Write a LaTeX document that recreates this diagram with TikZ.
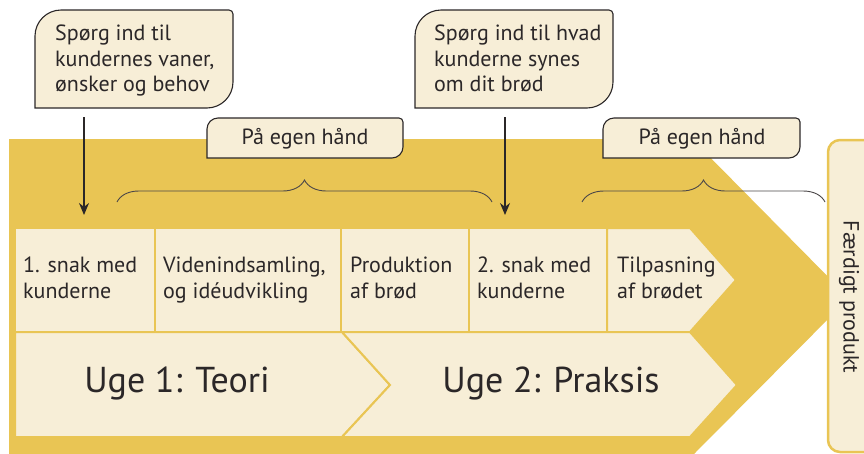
\documentclass[tikz,border=0pt]{standalone}
\usepackage{fontspec}
\setmainfont{PT Sans}
\usetikzlibrary{arrows.meta,decorations.pathreplacing}
\definecolor{gold}{HTML}{E9C554}
\definecolor{cream}{HTML}{F7EED7}
\definecolor{ink}{HTML}{2B2728}

% Box with large rounded top-left and bottom-right corners,
% small rounded top-right corner and a square bottom-left corner.
% #1 style, #2 x1, #3 y1, #4 x2, #5 y2, #6 big radius, #7 small radius
\newcommand{\tagbox}[7]{%
  \draw[#1] (#2,#5) -- (#2,#3+#6)
    .. controls (#2,#3+0.45*#6) and (#2+0.45*#6,#3) .. (#2+#6,#3)
    -- (#4-#7,#3)
    .. controls (#4-0.45*#7,#3) and (#4,#3+0.45*#7) .. (#4,#3+#7)
    -- (#4,#5-#6)
    .. controls (#4,#5-0.45*#6) and (#4-0.45*#6,#5) .. (#4-#6,#5)
    -- cycle;}

\begin{document}
\begin{tikzpicture}[x=1pt,y=-1pt,
  note/.style={fill=cream,draw=ink,line width=1.1pt},
  cell/.style={fill=cream,draw=gold,line width=2pt},
  celltext/.style={anchor=north west,inner sep=0pt,align=left,
    font=\fontsize{22}{26}\selectfont,text=ink},
  notetext/.style={anchor=north west,inner sep=0pt,align=left,
    font=\fontsize{22}{25.5}\selectfont,text=ink},
  labeltext/.style={inner sep=0pt,font=\fontsize{22}{26}\selectfont,text=ink},
  weektext/.style={inner sep=0pt,font=\fontsize{36}{40}\selectfont,text=ink},
  bracestyle/.style={draw=ink!85,line width=0.9pt,
    decorate,decoration={brace,amplitude=22pt}},
  arr/.style={draw=ink,line width=1.1pt,-{Stealth[length=12pt,width=10pt]}}]
\useasboundingbox (0,0) rectangle (864,453);
\clip (0,0) rectangle (864,453);

% big golden arrow
\fill[gold] (9,139) -- (692,139) -- (849,298) -- (693,455) -- (9,455) -- cycle;

% top row of steps
\path[cell] (15,228) rectangle (155,332);
\path[cell] (155,228) rectangle (341,332);
\path[cell] (341,228) rectangle (469,332);
\path[cell] (469,228) rectangle (607,332);
\path[cell] (607,228) -- (690,228) -- (736,280) -- (690,332) -- (607,332) -- cycle;

% bottom row: the two weeks
\path[cell] (15,332) -- (342,332) -- (390,385) -- (342,437) -- (15,437) -- cycle;
\path[cell] (342,332) -- (690,332) -- (737,385) -- (690,437) -- (342,437)
  -- (390,385) -- cycle;

\node[celltext] (s1) at (23,257) {1. snak med\\kunderne};
\node[celltext] (s2) at (163,257) {Videnindsamling,\\og idéudvikling};
\node[celltext] (s3) at (350,257) {Produktion\\af brød};
\node[celltext] (s4) at (477,257) {2. snak med\\kunderne};
\node[celltext] (s5) at (617,257) {Tilpasning\\af brødet};

\node[weektext] (w1) at (177,383) {Uge 1: Teori};
\node[weektext] (w2) at (551,383) {Uge 2: Praksis};

% finished product box
\draw[fill=cream,draw=gold,line width=2.5pt,rounded corners=12pt]
  (828,140) rectangle (900,452);
\node[rotate=-90,inner sep=0pt,font=\fontsize{22}{26}\selectfont,text=ink]
  (fp) at (849,297) {Færdigt produkt};

% question callouts
\tagbox{note}{35}{10}{233}{108}{26}{4}
\tagbox{note}{415}{10}{613}{108}{26}{4}
\node[notetext] (q1) at (55,25) {Spørg ind til\\kundernes vaner,\\ønsker og behov};
\node[notetext] (q2) at (434,25) {Spørg ind til hvad\\kunderne synes\\om dit brød};

% "on your own" labels
\tagbox{note}{207}{118}{403}{158}{11}{4}
\tagbox{note}{603}{118}{800}{158}{11}{4}
\node[labeltext] (o1) at (305,139) {På egen hånd};
\node[labeltext] (o2) at (702,139) {På egen hånd};

% braces
\coordinate (b1l) at (117,202);
\coordinate (b1r) at (492,202);
\coordinate (b2l) at (582,202);
\coordinate (b2r) at (825,202);
\path[bracestyle] (b1l) -- (b1r);
\path[bracestyle] (b2l) -- (b2r);

% arrows from the callouts down to the customer talks
\coordinate (a1s) at (84,117);
\coordinate (a1e) at (84,215);
\coordinate (a2s) at (505,117);
\coordinate (a2e) at (505,215);
\draw[arr] (a1s) -- (a1e);
\draw[arr] (a2s) -- (a2e);
\end{tikzpicture}
\end{document}
